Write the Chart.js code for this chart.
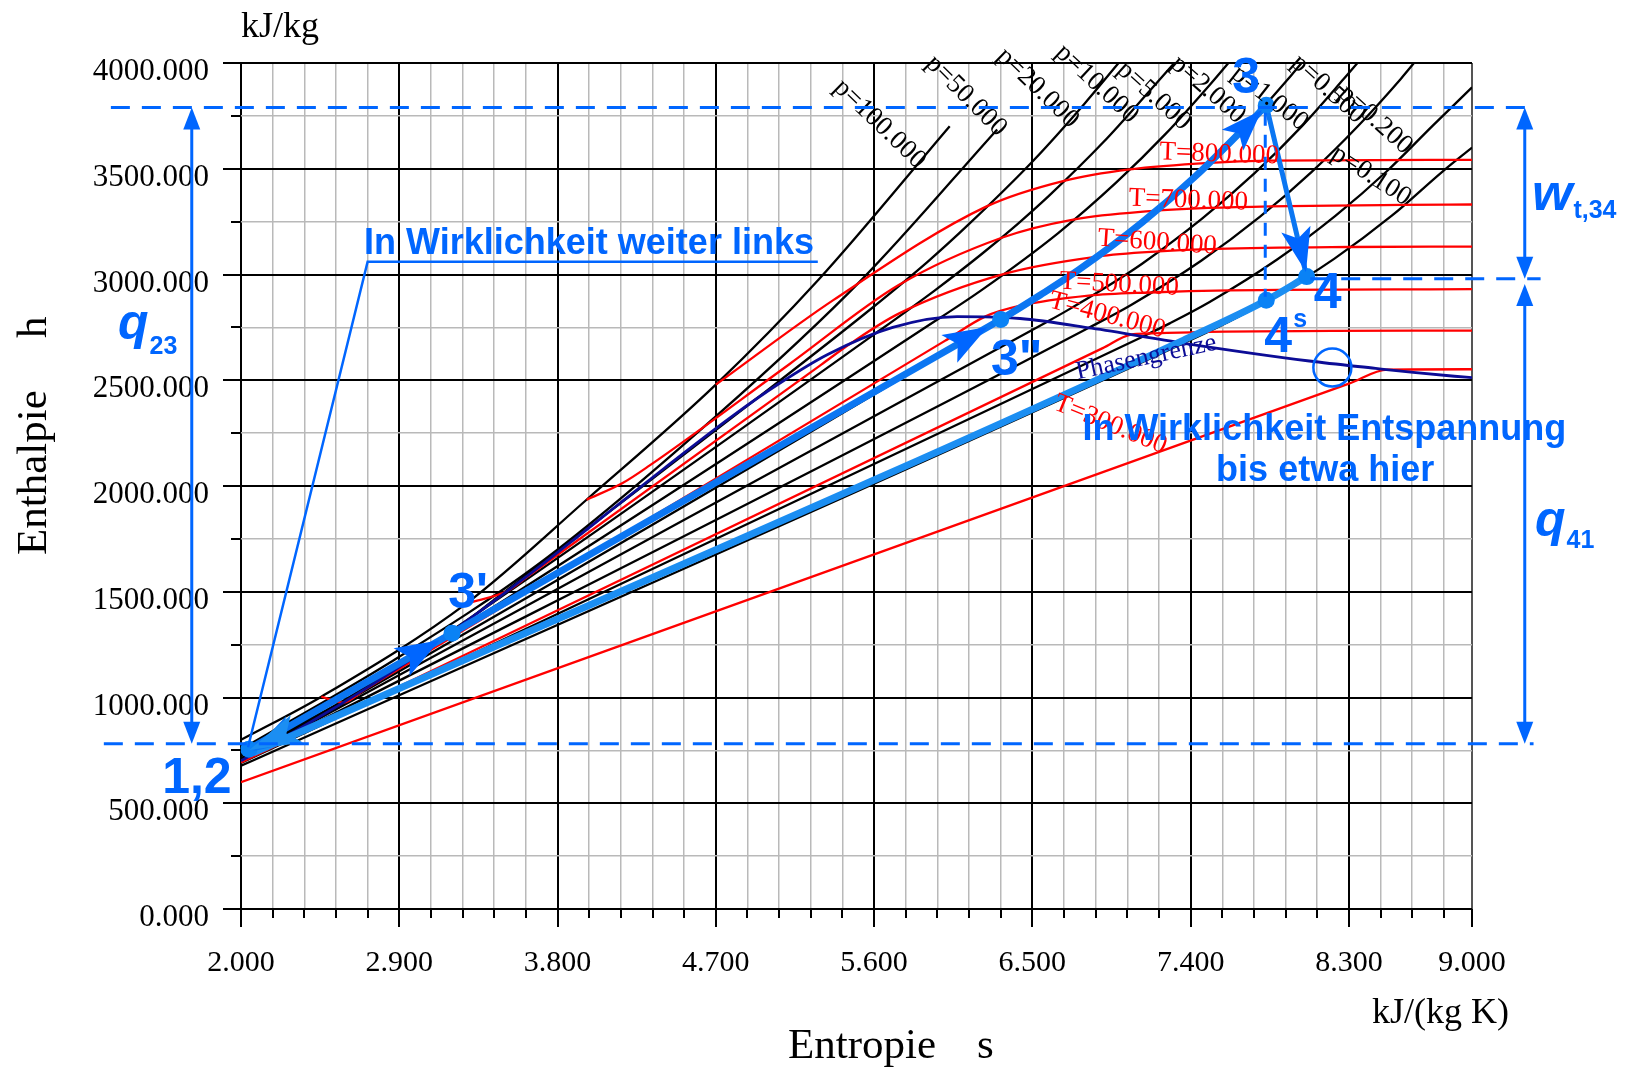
<!DOCTYPE html>
<html><head><meta charset="utf-8">
<script src="https://cdn.jsdelivr.net/npm/chart.js@4.4.1/dist/chart.umd.min.js"></script>
<style>html,body{margin:0;padding:0;background:#fff;}canvas{display:block;}</style>
</head><body>
<canvas id="c" width="1626" height="1067"></canvas>
<script>
// ---------- axis ticks ----------
const sMajor = [2.0, 2.9, 3.8, 4.7, 5.6, 6.5, 7.4, 8.3, 9.0];
const hMajor = [0, 500, 1000, 1500, 2000, 2500, 3000, 3500, 4000];

// ---------- isobars (p in MPa): entropy s [kJ/(kg K)], enthalpy h [kJ/kg] ----------
const p100S = [2.0, 2.457, 3.29, 3.965, 4.70, 5.285, 6.03];
const p100H = [800, 1004, 1450, 1935, 2479, 2976, 3701];
const p50S = [2.0, 2.85, 3.70, 4.70, 5.53, 6.30];
const p50H = [755, 1167, 1636, 2329, 2976, 3686];
const p20S = [2.0, 3.0, 3.5, 4.014, 4.927, 5.553, 5.904, 6.139, 6.505, 6.799, 7.05];
const p20H = [723, 1190, 1500, 1827, 2410, 2818, 3060, 3238, 3538, 3810, 4060];
const p10S = [2.0, 2.6, 3.36, 5.614, 5.944, 6.212, 6.419, 6.597, 6.903, 7.169, 7.35];
const p10H = [712, 994, 1408, 2725, 2924, 3097, 3241, 3374, 3625, 3870, 4040];
const p5S = [2.0, 2.5, 2.921, 5.973, 6.209, 6.647, 6.976, 7.259, 7.512, 7.65];
const p5H = [706, 938, 1155, 2794, 2925, 3196, 3434, 3666, 3900, 4035];
const p2S = [2.0, 2.447, 6.34, 6.545, 6.767, 7.127, 7.432, 7.702, 7.948, 8.1];
const p2H = [703, 909, 2799, 2903, 3024, 3248, 3468, 3690, 3918, 4070];
const p1S = [2.0, 6.585, 6.694, 6.925, 7.124, 7.465, 7.764, 8.029, 8.27, 8.4];
const p1H = [700, 2777, 2828, 2943, 3051, 3264, 3479, 3698, 3924, 4050];
const p05S = [2.0, 6.821, 7.059, 7.46, 7.793, 8.087, 8.352, 8.596, 8.7];
const p05H = [699, 2748, 2855, 3065, 3272, 3484, 3702, 3926, 4030];
const p02S = [2.0, 7.127, 7.281, 7.508, 7.894, 8.223, 8.514, 8.777, 9.0];
const p02H = [690, 2706, 2769, 2870, 3072, 3277, 3487, 3704, 3885];
const p01S = [2.0, 7.359, 7.614, 7.834, 8.216, 8.544, 8.834, 9.0];
const p01H = [677, 2675, 2776, 2875, 3074, 3278, 3488, 3600];
const pNames = ['p=100.000','p=50.000','p=20.000','p=10.000','p=5.000','p=2.000','p=1.000','p=0.500','p=0.200','p=0.100'];

// ---------- isotherms (T in K) ----------
const T300S = [2.0, 8.3, 8.52, 9.0];
const T300H = [600, 2484, 2550, 2552];
const T400S = [2.0, 6.9, 7.06, 7.16, 7.50, 8.2, 9.0];
const T400H = [693, 2652, 2716, 2721, 2729, 2733, 2735];
const T500S = [2.457, 2.582, 2.70, 6.0, 6.234, 6.42, 6.82, 7.17, 7.62, 9.0];
const T500H = [1004, 976, 1035, 2685, 2802, 2850, 2900, 2915, 2925, 2931];
const T600S = [3.29, 3.52, 3.62, 5.3, 5.47, 5.74, 6.34, 6.87, 7.22, 7.55, 8.30, 9.0];
const T600H = [1446, 1506, 1566, 2574, 2676, 2815, 3003, 3085, 3109, 3121, 3130, 3132];
const T700S = [3.965, 4.17, 4.32, 5.12, 5.74, 6.33, 6.74, 7.17, 7.5, 8.6, 9.0];
const T700H = [1935, 2014, 2095, 2577, 2950, 3175, 3261, 3300, 3315, 3329, 3331];
const T800S = [4.70, 5.37, 6.24, 6.68, 7.055, 7.51, 7.84, 9.0];
const T800H = [2479, 2880, 3322, 3443, 3497, 3528, 3538, 3542];
const TNames = ['T=300.000','T=400.000','T=500.000','T=600.000','T=700.000','T=800.000'];

// ---------- phase boundary ----------
const satS = [2.0, 2.331, 2.793, 3.255, 3.660, 3.917, 4.111, 4.407, 4.800, 5.054, 5.336, 5.706, 6.072, 6.430, 6.837, 7.354, 8.075, 8.452, 8.666, 8.900, 9.0];
const satH = [701, 852, 1086, 1345, 1595, 1762, 1890, 2084, 2334, 2481, 2622, 2750, 2801, 2792, 2746, 2676, 2591, 2556, 2537, 2519, 2512];

// ---------- cycle ----------
const heatS = [2.045, 6.1, 6.32, 6.545, 6.767, 7.127, 7.432, 7.702, 7.83];
const heatH = [755, 2682, 2787, 2903, 3024, 3248, 3468, 3690, 3800];
const expS = [7.83, 8.06];
const expH = [3800, 2990];
const coolS = [2.07, 7.36, 7.83, 8.06];
const coolH = [738, 2690, 2878, 2990];
const stateNames = ['1,2', "3'", '3"', '3', '4', '4'];
const stateS = [2.045, 3.20, 6.32, 7.83, 8.06, 7.83];
const stateH = [755, 1304, 2787, 3800, 2990, 2878];
const levelH = [3790, 2980, 781];   // h levels of the dashed guide lines (3, 4, 1)

// ---------- build ticks ----------
const sTicks = [];
for (let i = 0; i < sMajor.length; i++) {
  sTicks.push(sMajor[i]);
  if (i < sMajor.length - 1) {
    for (let v = sMajor[i] + 0.18; v < sMajor[i + 1] - 1e-6; v += 0.18) sTicks.push(+v.toFixed(4));
  }
}
const hTicks = [];
hMajor.forEach((m, i) => { hTicks.push(m); if (i < hMajor.length - 1) hTicks.push(m + 250); });
const isMajS = v => sMajor.some(m => Math.abs(m - v) < 1e-6);
const isMajH = v => Math.abs(v % 500) < 1e-6;

const xy = (S, H) => S.map((s, i) => ({ x: s, y: H[i] }));
const lineDs = (S, H, color, w, order) => ({
  data: xy(S, H), showLine: true, borderColor: color, borderWidth: w, pointRadius: 0,
  cubicInterpolationMode: 'monotone', fill: false, clip: 0, order: order
});

const isobarSets = [[p100S,p100H],[p50S,p50H],[p20S,p20H],[p10S,p10H],[p5S,p5H],[p2S,p2H],[p1S,p1H],[p05S,p05H],[p02S,p02H],[p01S,p01H]];
const isothermSets = [[T300S,T300H],[T400S,T400H],[T500S,T500H],[T600S,T600H],[T700S,T700H],[T800S,T800H]];

const HEAT = '#0b76f2', COOL = '#1b8ef2', ANN = '#0066ff', NAVY = '#0c0c96';

const datasets = [];
isobarSets.forEach(([S, H]) => datasets.push(lineDs(S, H, '#000', 2.3, 5)));
isothermSets.forEach(([S, H]) => datasets.push(lineDs(S, H, '#ff0000', 2.3, 4)));
datasets.push(lineDs(satS, satH, NAVY, 2.8, 3));
datasets.push(lineDs(coolS, coolH, COOL, 7, 2));
datasets.push(lineDs(heatS, heatH, HEAT, 7, 1));
datasets.push(lineDs(expS, expH, HEAT, 5, 1));
datasets.push({ data: xy(stateS, stateH), showLine: false, pointRadius: 8.5, pointBackgroundColor: '#0a82f5',
  pointBorderWidth: 0, clip: false, order: 0 });

// ---------- label anchors (data coordinates) ----------
const pLabelAt = [[5.87,3520,44],[6.33,3672,45],[6.74,3712,44],[7.08,3735,43],[7.38,3703,42],[7.69,3735,41],[8.05,3703,38],[8.37,3735,42],[8.64,3590,42],[8.64,3352,33]];
const TLabelAt = [[6.943,2290,22],[6.926,2806,15],[6.994,2952,3],[7.21,3151,4],[7.387,3350,2],[7.563,3568,2]];

function arrowHead(ctx, tx, ty, dx, dy, len, wid, color) {
  const n = Math.hypot(dx, dy), ux = dx / n, uy = dy / n;
  const bx = tx - ux * len, by = ty - uy * len;
  const nx = tx - ux * len * 0.78, ny = ty - uy * len * 0.78;
  ctx.beginPath();
  ctx.moveTo(tx, ty);
  ctx.lineTo(bx - uy * wid / 2, by + ux * wid / 2);
  ctx.lineTo(nx, ny);
  ctx.lineTo(bx + uy * wid / 2, by - ux * wid / 2);
  ctx.closePath();
  ctx.fillStyle = color; ctx.fill();
}
function simpleHead(ctx, tx, ty, dir, len, wid, color) {
  ctx.beginPath();
  ctx.moveTo(tx, ty);
  ctx.lineTo(tx - wid / 2, ty - dir * len);
  ctx.lineTo(tx + wid / 2, ty - dir * len);
  ctx.closePath(); ctx.fillStyle = color; ctx.fill();
}
function rtext(ctx, str, x, y, deg, align, base) {
  ctx.save(); ctx.translate(x, y); ctx.rotate(deg * Math.PI / 180);
  ctx.textAlign = align; ctx.textBaseline = base; ctx.fillText(str, 0, 0); ctx.restore();
}
const SANS = '"Liberation Sans", Arial, sans-serif';
const SERIF = '"Liberation Serif", "Times New Roman", serif';

const annot = {
  id: 'annot',
  afterDatasetsDraw(chart) {
    const ctx = chart.ctx, xs = chart.scales.x, ys = chart.scales.y;
    const X = v => xs.getPixelForValue(v), Y = v => ys.getPixelForValue(v);
    ctx.save();
    // isobar labels
    ctx.fillStyle = '#000'; ctx.font = '27px ' + SERIF;
    pNames.forEach((n, i) => { const [s, h, r] = pLabelAt[i]; rtext(ctx, n, X(s), Y(h), r, 'right', 'middle'); });
    // isotherm labels
    ctx.fillStyle = '#ff0000'; ctx.font = '27px ' + SERIF;
    TNames.forEach((n, i) => { const [s, h, r] = TLabelAt[i]; rtext(ctx, n, X(s), Y(h), r, 'center', 'middle'); });
    // phase boundary label
    ctx.fillStyle = NAVY; ctx.font = '26px ' + SERIF;
    rtext(ctx, 'Phasengrenze', X(7.148), Y(2607), -12, 'center', 'middle');
    ctx.restore();

    // arrowheads on cycle
    const P = (s, h) => [X(s), Y(h)];
    const [x12, y12] = P(heatS[0], heatH[0]);
    const [x3d, y3d] = P(heatS[2], heatH[2]);
    const dHx = x3d - x12, dHy = y3d - y12;
    const onHeat = s => heatH[0] + (s - heatS[0]) * (heatH[2] - heatH[0]) / (heatS[2] - heatS[0]);
    let t = P(3.13, onHeat(3.13));
    arrowHead(ctx, t[0], t[1], dHx, dHy, 44, 32, ANN);
    t = P(6.245, onHeat(6.245));
    arrowHead(ctx, t[0], t[1], dHx, dHy, 44, 32, ANN);
    const [xa, ya] = P(7.702, 3690), [xb, yb] = P(7.83, 3800);
    t = P(7.805, 3778);
    arrowHead(ctx, t[0], t[1], xb - xa, yb - ya, 42, 30, ANN);
    const [x4, y4] = P(expS[1], expH[1]);
    t = P(8.056, 3012);
    arrowHead(ctx, t[0], t[1], x4 - xb, y4 - yb, 44, 30, ANN);
    arrowHead(ctx, x12 + 4, y12 + 2, -dHx, -dHy, 46, 28, HEAT);
    const [xc, yc] = P(coolS[1], coolH[1]), [xd, yd] = P(coolS[0], coolH[0]);
    arrowHead(ctx, xd - 4, yd - 3, xd - xc, yd - yc, 52, 30, COOL);

    // state labels
    ctx.fillStyle = ANN; ctx.font = 'bold 50px ' + SANS; ctx.textBaseline = 'alphabetic'; ctx.textAlign = 'center';
    const off = [[-52, 44], [16, -25], [16, 55], [-20, -12], [21, 31], [12, 52]];
    stateNames.forEach((n, i) => { ctx.fillText(n, X(stateS[i]) + off[i][0], Y(stateH[i]) + off[i][1]); });
    ctx.font = 'bold 25px ' + SANS; ctx.textAlign = 'left';
    ctx.fillText('s', X(stateS[5]) + 27, Y(stateH[5]) + 27);

    // dashed guide lines
    ctx.strokeStyle = ANN; ctx.lineWidth = 3; ctx.setLineDash([19, 12]);
    ctx.beginPath();
    ctx.moveTo(X(1.26), Y(levelH[0])); ctx.lineTo(X(9.35), Y(levelH[0]));
    ctx.moveTo(X(8.08), Y(levelH[1])); ctx.lineTo(X(9.39), Y(levelH[1]));
    ctx.moveTo(X(1.22), Y(levelH[2])); ctx.lineTo(X(9.35), Y(levelH[2]));
    ctx.stroke();
    ctx.setLineDash([13, 9]); ctx.lineWidth = 3;
    ctx.beginPath(); ctx.moveTo(X(stateS[3]) - 1, Y(3765)); ctx.lineTo(X(stateS[3]) - 1, Y(2895)); ctx.stroke();
    ctx.setLineDash([]);

    // double arrows
    ctx.lineWidth = 3;
    const dbl = (s, h1, h2) => {
      const x = X(s), y1 = Y(h1), y2 = Y(h2);
      ctx.beginPath(); ctx.moveTo(x, y1 + 10); ctx.lineTo(x, y2 - 10); ctx.stroke();
      simpleHead(ctx, x, y1, -1, 22, 17, ANN);
      simpleHead(ctx, x, y2, 1, 22, 17, ANN);
    };
    dbl(1.72, levelH[0], levelH[2]);
    dbl(9.3, levelH[0], levelH[1]);
    dbl(9.3, levelH[1] - 25, levelH[2]);

    // leader "In Wirklichkeit weiter links"
    ctx.lineWidth = 2.5;
    ctx.beginPath(); ctx.moveTo(X(2.04), Y(765)); ctx.lineTo(X(2.72), Y(3060)); ctx.lineTo(X(5.28), Y(3060)); ctx.stroke();
    ctx.font = 'bold 36px ' + SANS; ctx.textAlign = 'left'; ctx.fillStyle = ANN;
    ctx.fillText('In Wirklichkeit weiter links', X(2.70), Y(3095));
    // circle
    ctx.lineWidth = 2.5;
    ctx.beginPath(); ctx.arc(X(8.206), Y(2560), 19, 0, Math.PI * 2); ctx.stroke();
    ctx.textAlign = 'center';
    ctx.fillText('In Wirklichkeit Entspannung', X(8.16), Y(2219));
    ctx.fillText('bis etwa hier', X(8.165), Y(2025));

    // q / w labels
    const qlab = (main, sub, x, y, ms, dy) => {
      ctx.textAlign = 'left';
      ctx.font = 'italic bold ' + ms + 'px ' + SANS; ctx.fillText(main, x, y);
      const w = ctx.measureText(main).width;
      ctx.font = 'bold 25px ' + SANS; ctx.fillText(sub, x + w + 1, y + dy);
    };
    qlab('q', '23', 118, 339, 50, 15);
    qlab('q', '41', 1535, 536, 50, 12);
    qlab('w', 't,34', 1532, 210, 52, 8);
  },
  afterDraw(chart) {
    const ctx = chart.ctx, xs = chart.scales.x, ys = chart.scales.y;
    const a = chart.chartArea;
    ctx.save();
    ctx.strokeStyle = '#000'; ctx.lineWidth = 2;
    ctx.beginPath();
    sTicks.forEach(v => { const x = Math.round(xs.getPixelForValue(v)); const L = isMajS(v) ? 18 : 9; ctx.moveTo(x, a.bottom); ctx.lineTo(x, a.bottom + L); });
    hTicks.forEach(v => { const y = Math.round(ys.getPixelForValue(v)); const L = isMajH(v) ? 18 : 10; ctx.moveTo(a.left - L, y); ctx.lineTo(a.left, y); });
    ctx.stroke();
    // axis titles and units
    ctx.fillStyle = '#000'; ctx.textBaseline = 'alphabetic'; ctx.textAlign = 'left';
    ctx.font = '36px ' + SERIF;
    ctx.fillText('kJ/kg', 241, 37);
    ctx.fillText('kJ/(kg K)', 1372, 1023);
    ctx.font = '43px ' + SERIF;
    ctx.fillText('Entropie', 788, 1058);
    ctx.fillText('s', 977, 1058);
    ctx.save(); ctx.translate(46, 555); ctx.rotate(-Math.PI / 2); ctx.fillText('Enthalpie', 0, 0); ctx.restore();
    ctx.save(); ctx.translate(46, 338); ctx.rotate(-Math.PI / 2); ctx.fillText('h', 0, 0); ctx.restore();
    ctx.restore();
  }
};

new Chart(document.getElementById('c'), {
  type: 'scatter',
  data: { datasets },
  options: {
    responsive: false, animation: false, devicePixelRatio: 1, events: [],
    layout: { padding: { left: 0, right: 154, top: 63, bottom: 0 } },
    plugins: { legend: { display: false }, tooltip: { enabled: false } },
    scales: {
      x: {
        type: 'linear', min: 2, max: 9,
        afterBuildTicks: sc => { sc.ticks = sTicks.map(v => ({ value: v })); },
        afterFit: sc => { sc.height = 158; },
        border: { display: false },
        grid: {
          drawTicks: false,
          color: c => (c.tick && Math.abs(c.tick.value - 9) < 1e-6) ? '#555' : (c.tick && isMajS(c.tick.value) ? '#000' : '#b9b9b9'),
          lineWidth: c => (c.tick && isMajS(c.tick.value)) ? 2 : 1.5
        },
        ticks: {
          autoSkip: false, maxRotation: 0, minRotation: 0, padding: 36, color: '#000',
          font: { family: 'Liberation Serif', size: 30 },
          callback: v => isMajS(v) ? Number(v).toFixed(3) : ''
        }
      },
      y: {
        type: 'linear', min: 0, max: 4000,
        afterBuildTicks: sc => { sc.ticks = hTicks.map(v => ({ value: v })); },
        afterFit: sc => { sc.width = 241; },
        border: { display: false },
        grid: {
          drawTicks: false,
          color: c => (c.tick && isMajH(c.tick.value)) ? '#000' : '#b9b9b9',
          lineWidth: c => (c.tick && isMajH(c.tick.value)) ? 2 : 1.5
        },
        ticks: {
          autoSkip: false, padding: 32, labelOffset: 9, color: '#000',
          font: { family: 'Liberation Serif', size: 31 },
          callback: v => isMajH(v) ? Number(v).toFixed(3) : ''
        }
      }
    }
  },
  plugins: [annot]
});
</script>
